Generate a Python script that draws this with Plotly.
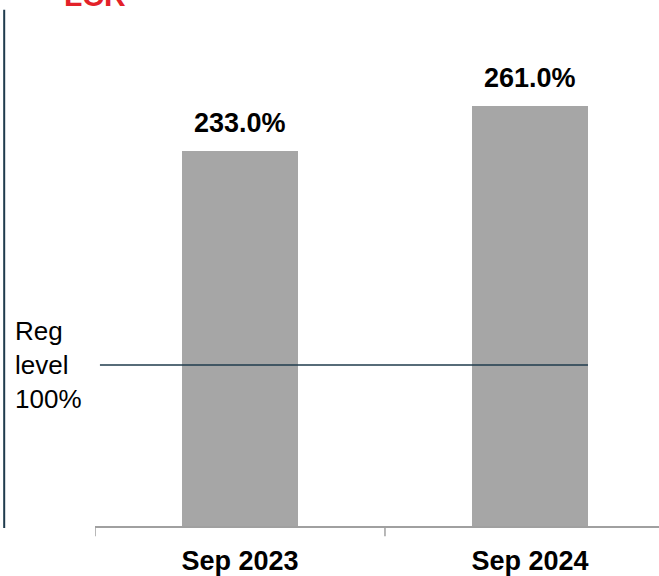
import plotly.graph_objects as go

# LCR by period, in percent
periods = ["Sep 2023", "Sep 2024"]
lcr_values = [233.0, 261.0]
reg_level = 100.0
reg_label = "Reg<br>level<br>100%"
title_text = "LCR"

BAR_WIDTH = 0.4
FONT = "Liberation Sans, Arial, sans-serif"

fig = go.Figure()

fig.add_trace(go.Bar(
    x=list(range(len(periods))),
    y=lcr_values,
    width=BAR_WIDTH,
    marker=dict(color="#a6a6a6", line=dict(width=0)),
    hoverinfo="skip",
    showlegend=False,
))

# value labels above each bar
for i, v in enumerate(lcr_values):
    fig.add_annotation(
        x=i, y=v, xref="x", yref="y",
        text=f"{v:.1f}%", showarrow=False,
        yanchor="middle", yshift=28,
        font=dict(family=FONT, size=27, color="#000000", weight="bold"),
    )

# regulatory minimum line
fig.add_shape(
    type="line", xref="x", yref="y",
    x0=-0.483, x1=len(periods) - 1 + BAR_WIDTH / 2,
    y0=reg_level, y1=reg_level,
    line=dict(color="#1f3b4d", width=1.5),
)
fig.add_annotation(
    x=-0.146, y=reg_level, xref="paper", yref="y",
    text=reg_label, showarrow=False, align="left",
    xanchor="left", yanchor="middle",
    font=dict(family=FONT, size=26, color="#000000"),
)

# left rule
fig.add_shape(
    type="line", xref="paper", yref="paper",
    x0=-0.161, x1=-0.161, y0=-0.004, y1=1.062,
    line=dict(color="#1f3b4d", width=2),
)

# title
fig.add_annotation(
    x=0.0, y=1.092, xref="paper", yref="paper",
    text=title_text, showarrow=False,
    xanchor="center", yanchor="middle",
    font=dict(family=FONT, size=30, color="#e32129", weight="bold"),
)

fig.update_layout(
    width=659, height=576,
    margin=dict(l=95, r=0, t=40, b=50),
    paper_bgcolor="white", plot_bgcolor="white",
    bargap=0,
    xaxis=dict(
        type="linear",
        range=[-0.5, 1.445],
        tickmode="array",
        tickvals=list(range(len(periods))),
        ticktext=[f"<b>{p}</b>" for p in periods],
        ticks="", showgrid=False, zeroline=False,
        showline=True, linecolor="#a0a0a0", linewidth=1.5,
        tickfont=dict(family=FONT, size=27, color="#000000"),
        ticklabelstandoff=10,
    ),
    yaxis=dict(
        range=[0, 302], visible=False, showgrid=False, zeroline=False,
    ),
)

# category boundary ticks below the axis
for b in [-0.5, 0.5, 1.5]:
    fig.add_shape(
        type="line", xref="x", yref="paper",
        x0=b, x1=b, y0=0, y1=-0.021,
        line=dict(color="#a0a0a0", width=1.5),
    )

fig.write_html("out.html")
